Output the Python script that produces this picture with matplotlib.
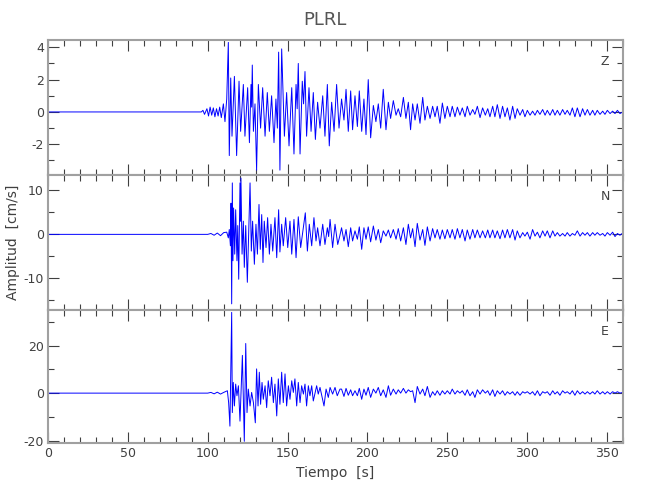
import matplotlib
matplotlib.use("Agg")
import matplotlib.pyplot as plt
from matplotlib.ticker import MultipleLocator

plt.rcParams["font.family"] = ["DejaVu Sans"]
plt.rcParams["axes.unicode_minus"] = False

# onset and strong-motion part (time in s, amplitude in cm/s), read as extrema
z_t = [0, 96, 97, 98, 99.5, 100.5, 101.5, 102.5, 103.5, 104.5, 105.5, 106.5, 107.5, 108.5, 109.8, 110.8, 111.9,
       112.9, 113.5, 114.4, 115.2, 116.7, 118.1, 119.6, 120.6, 122.3, 123.3,
       125.0, 126.1, 127.1, 127.5, 127.9, 128.6, 129.6, 130.6, 131.7, 133.1,
       134.4, 135.9, 137.3, 138.6, 140.0, 141.5, 142.7, 143.6, 144.4, 145.2,
       146.3, 148.0, 149.4, 150.9, 152.6, 154.0, 155.3, 156.0, 156.7, 157.8,
       159.2, 160.0, 160.9, 161.9, 163.4, 164.7, 166.1, 167.4, 168.8, 170.3,
       172.0, 173.4, 174.9, 176.1, 177.6, 179.1, 180.7, 182.2]
z_a = [0, 0, 0.1, -0.15, 0.2, -0.25, 0.3, -0.2, 0.25, -0.3, 0.2, -0.25, 0.3, -0.35, 0.5, -0.6, 0.8,
       4.3, -2.7, 2.1, -1.5, 2.2, -2.7, 1.9, -1.2, 1.7, -1.5,
       1.5, -1.9, 1.7, 0.3, 2.9, -1.2, 0.5, -3.6, 1.7, -1.0,
       1.5, -1.5, 1.2, -1.2, 1.0, -1.9, 0.8, -1.0, 3.7, -3.6,
       3.9, -1.5, 1.2, -2.1, 1.5, -2.6, 1.7, 0.2, 3.0, -2.6,
       1.9, 0.5, 2.5, -1.5, 1.5, -1.2, 1.2, -1.7, 0.6, -1.0,
       1.0, -1.5, 1.7, -2.1, 0.6, -1.2, 1.7, -1.0]

n_t = [0, 100, 102, 104, 106, 108, 110, 111.9, 112.9, 113.5,
       114.2, 114.6, 115.0, 115.4, 115.8, 116.2, 116.9, 117.5, 118.3, 118.8,
       119.4, 120.2, 120.5, 120.8, 121.5, 122.3, 122.9, 123.8, 124.8, 125.4,
       126.5, 127.3, 128.1, 129.2, 130.2, 131.1, 132.1, 132.9, 133.8, 134.6,
       135.4, 136.5, 137.5, 138.6, 139.6, 140.7, 142.1, 143.2, 144.4, 145.2,
       146.3, 147.3, 148.8, 150.1, 151.5, 152.6, 154.0, 155.3, 156.7, 158.2,
       161.1, 162.4, 163.6, 165.1, 166.5, 167.8, 168.8, 170.3, 172.0, 173.4,
       174.9, 175.7, 176.6, 178.2, 179.7, 181.4, 182.6]
n_a = [0, 0, 0.2, -0.2, 0.3, -0.3, 0.4, 0.5, -0.8, 1.1,
       -2.6, 7.1, -15.8, 11.7, -6.0, 6.0, -4.5, 5.6, -6.0, 2.0,
       -10.2, 11.7, 3.0, 12.8, -4.5, 3.0, -7.5, 2.0, -10.9, -3.0,
       11.7, -3.8, 3.0, -6.8, 2.3, -4.5, 6.8, -3.4, 4.5, -6.4,
       3.0, -3.0, 3.8, -4.5, 2.3, -3.8, 3.8, -5.3, 5.6, -4.0,
       2.3, -2.6, 3.8, -3.0, 3.0, -4.5, 3.4, -5.3, 4.0, -3.0,
       4.9, -3.8, 2.3, -2.6, 3.8, -1.5, 1.5, -2.6, 2.3, -2.3,
       1.5, -0.5, 3.4, -3.0, 2.3, -2.3, -0.5]

e_t = [0, 100, 102, 104, 106, 108, 110, 112.3, 113.1, 113.9,
       115.0, 115.4, 116.0, 116.7, 117.5, 118.3, 119.2, 120.2, 121.7, 122.9,
       123.8, 124.6, 125.4, 126.5, 127.5, 128.6, 129.8, 130.6, 131.5, 132.3,
       133.1, 134.0, 134.8, 135.9, 136.9, 137.9, 139.0, 140.0, 141.1, 142.1,
       143.2, 144.2, 145.2, 146.3, 147.3, 148.4, 149.4, 150.5, 151.5, 152.6,
       153.6, 154.6, 155.7, 156.7, 157.8, 158.8, 159.9, 160.9, 161.9, 163.0,
       164.0, 165.1, 166.1, 168.2, 169.2, 170.3, 172.8, 174.1, 175.5, 176.6,
       178.2, 179.7, 181.1, 182.8]
e_a = [0, 0, 0.3, -0.3, 0.4, -0.4, 0.3, 1.0, -4.0, -13.9,
       34.0, -8.2, 4.5, -5.4, 3.8, -1.1, 3.1, -11.8, 15.9, -20.3,
       20.9, -8.2, 1.7, -5.4, 0.3, -4.0, -12.5, 10.2, -5.4, 8.8,
       -4.7, 4.5, -2.6, 3.1, -6.1, 5.2, -1.1, 6.7, -4.0, 3.8,
       -9.6, 6.0, -4.7, 8.8, -4.0, 8.1, -5.4, 3.1, -2.6, 5.2,
       0.3, 6.0, -5.4, 4.5, -4.0, 3.1, -0.4, 3.8, -5.4, 3.1,
       -1.1, 3.1, -3.3, 3.1, -0.4, 2.4, -5.4, 1.7, -1.8, 2.4,
       -0.4, 2.4, -1.1, 1.7]

# coda, read at the same instants on the three components
coda_t = [183.8, 185.3, 186.6, 188.0, 189.5, 190.7, 192.2, 193.7, 194.9, 196.4,
          197.8, 199.1, 200.5, 202.0, 203.7, 205.3, 206.8, 208.3, 209.9, 211.6,
          213.1, 214.5, 216.2, 217.9, 219.3, 220.8, 222.5, 224.1, 225.6, 227.0,
          228.3, 229.8, 231.2, 232.9, 234.6, 236.0, 237.5, 239.2, 240.8, 242.3,
          243.7, 245.4, 246.9, 248.5, 250.0, 251.7, 253.1, 254.8, 256.3, 257.9,
          259.4, 261.1, 262.5, 264.2, 265.9, 267.3, 268.8, 270.5, 272.1, 273.8,
          275.3, 276.7, 278.4, 279.8, 281.3, 283.0, 284.6, 286.1, 287.6, 289.2,
          290.9, 292.4, 293.8, 295.5, 297.2, 298.6, 300.1, 301.8, 303.4, 304.9,
          306.4, 308.0, 309.7, 311.2, 312.6, 314.3, 316.0, 317.4, 318.9, 320.5,
          322.2, 323.7, 325.1, 326.8, 328.3, 329.9, 331.4, 333.1, 334.7, 336.2,
          337.7, 339.3, 341.0, 342.4, 343.9, 345.6, 347.3, 348.7, 350.2, 351.9,
          353.5, 355.0, 356.5, 358.1, 359.8]
z_coda = [0.8, -0.5, 1.4, -1.2, 1.3, -1.1, 1.0, -0.9, 1.3, -1.2,
          0.8, -1.4, 2.0, -1.6, 0.4, -0.6, 0.5, -1.0, 1.4, -1.1,
          0.6, -0.4, 0.7, -0.2, 0.2, -0.3, 0.9, -0.4, 0.6, -1.1,
          0.5, -0.5, 0.5, -0.7, 0.9, -0.5, 0.35, -0.4, 0.35, -0.3,
          0.35, -0.7, 0.55, -0.4, 0.35, -0.3, 0.35, -0.3, 0.3, -0.2,
          0.25, -0.3, 0.35, -0.2, 0.15, -0.15, 0.35, -0.35, 0.25, -0.2,
          0.2, -0.3, 0.35, -0.3, 0.45, -0.4, 0.35, -0.3, 0.25, -0.5,
          0.35, -0.4, 0.2, -0.2, 0.15, -0.3, 0.1, -0.2, 0.05, -0.2,
          0.1, -0.15, 0.15, -0.2, 0.1, -0.2, 0.15, -0.2, 0.1, -0.2,
          0.15, -0.15, 0.1, -0.2, 0.25, -0.3, 0.25, -0.3, 0.2, -0.2,
          0.15, -0.2, 0.1, -0.2, 0.1, -0.15, 0.05, -0.15, 0.1, -0.1,
          0.05, -0.1, 0.1, -0.1, 0.0]
n_coda = [1.5, -1.5, 1.1, -2.8, 1.5, -1.5, 0.8, -1.1, 1.7, -3.4,
          1.5, -1.1, 1.7, -1.7, 1.9, -1.3, 1.1, -1.9, 0.8, -0.4,
          1.0, -0.8, 1.1, -1.1, 1.3, -1.5, 1.5, -2.3, 2.3, -0.8,
          1.3, -2.8, 2.5, -1.3, 1.1, -2.5, 1.7, -1.5, 1.3, -0.8,
          1.1, -1.1, 1.0, -1.0, 1.1, -0.8, 1.1, -1.1, 1.3, -0.8,
          1.1, -1.5, 1.0, -1.1, 1.1, -0.8, 1.0, -0.8, 0.8, -0.8,
          1.0, -0.8, 1.0, -0.8, 0.8, -1.0, 1.0, -0.8, 1.1, -0.8,
          1.1, -1.3, 0.8, -0.8, 0.4, -0.4, 0.5, -1.1, 1.1, -0.4,
          0.5, -0.8, 0.8, -0.4, 0.8, -0.8, 0.8, -0.4, 0.4, -0.4,
          0.2, -0.4, 0.4, -0.4, 0.2, -0.2, 0.8, -0.4, 0.4, -0.2,
          0.4, -0.4, 0.4, -0.2, 0.4, -0.2, 0.2, -0.4, 0.4, -0.2,
          0.5, -0.5, 0.2, -0.2, 0.3]
e_coda = [1.7, -1.4, 2.0, -0.9, 1.4, -1.1, 1.0, -1.1, 2.0, -2.6,
          1.7, -0.9, 2.4, -1.8, 1.7, 0.0, 2.4, -1.1, 1.4, -1.8,
          3.1, -0.9, 1.7, -0.4, 1.4, 0.0, 2.0, 0.0, 1.4, 0.6,
          1.0, -4.0, 2.8, -0.4, 1.7, -1.1, 2.8, -1.8, 0.6, -0.9,
          1.0, -0.9, 1.0, -0.4, 1.0, -0.4, 1.7, -0.4, 1.0, 0.0,
          1.0, -0.9, 1.4, -1.1, 0.6, -1.8, 1.4, -0.4, 1.4, 0.0,
          1.0, -0.9, 1.4, -1.4, 1.0, -0.4, 1.0, -0.9, 0.6, -0.4,
          0.6, -0.9, 0.6, -0.9, 0.6, 0.0, 0.6, -0.4, 0.6, -0.9,
          1.0, -1.1, 0.6, 0.0, 0.6, -0.9, 1.0, -0.4, 0.6, -0.9,
          1.0, 0.0, 0.6, -0.4, 1.0, -0.9, 1.0, -0.4, 0.6, -0.4,
          0.6, -0.4, 0.6, -0.4, 1.0, -0.4, 0.6, -0.4, 0.6, -0.4,
          0.6, 0.0, 0.6, 0.0, 0.3]

components = ["Z", "N", "E"]
ylims = [(-3.9, 4.45), (-17.2, 13.5), (-21.0, 35.0)]
major = [2, 10, 20]
minor = [1, 5, 10]

frame = "#a0a0a0"
ink = "#404040"

fig = plt.figure(figsize=(6.5, 5), dpi=100)
left, width = 48 / 650, 575 / 650
bottoms = [1 - 175 / 500, 1 - 310 / 500, 1 - 443 / 500]
heights = [135 / 500, 135 / 500, 133 / 500]

traces = [(z_t + coda_t, z_a + z_coda),
          (n_t + coda_t, n_a + n_coda),
          (e_t + coda_t, e_a + e_coda)]

axes = []
for i, (name, (t, a)) in enumerate(zip(components, traces)):
    ax = fig.add_axes([left, bottoms[i], width, heights[i]])
    ax.plot(t, a, color="#0000ff", linewidth=0.7)
    ax.set_xlim(0, 360)
    ax.set_ylim(*ylims[i])
    ax.xaxis.set_major_locator(MultipleLocator(50))
    ax.xaxis.set_minor_locator(MultipleLocator(10))
    ax.yaxis.set_major_locator(MultipleLocator(major[i]))
    ax.yaxis.set_minor_locator(MultipleLocator(minor[i]))
    ax.tick_params(which="both", direction="in", top=True, right=True,
                   color=ink, labelcolor=ink, labelsize=9, width=0.8, pad=3)
    ax.tick_params(which="major", length=8)
    ax.tick_params(which="minor", length=4)
    for s in ax.spines.values():
        s.set_color(frame)
        s.set_linewidth(1.5)
    ax.text(0.969, 0.84, name, transform=ax.transAxes, ha="center",
            va="center", color=ink, fontsize=9)
    if i < 2:
        ax.tick_params(labelbottom=False)
    axes.append(ax)

axes[2].set_xlabel("Tiempo  [s]", color=ink, fontsize=10, labelpad=4)
fig.text(13 / 650, 1 - 242 / 500, "Amplitud  [cm/s]", rotation=90,
         ha="center", va="center", color=ink, fontsize=10)
fig.text(0.5, 1 - 20 / 500, "PLRL", ha="center", va="center",
         color="#555555", fontsize=13)

fig.savefig("out.png", dpi=100)
